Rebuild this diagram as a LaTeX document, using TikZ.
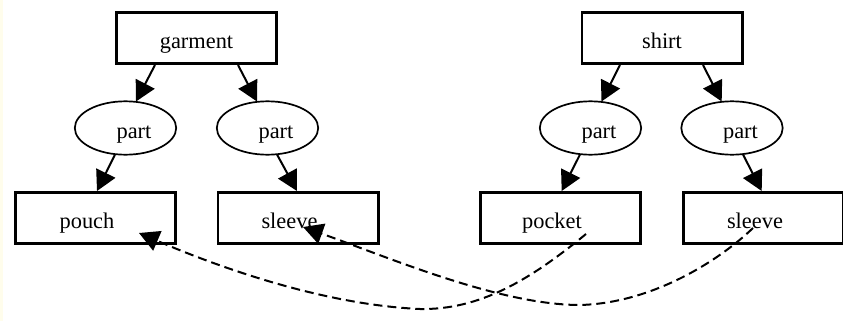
\documentclass[tikz,border=0pt]{standalone}
\usepackage{fontspec}
\setmainfont{Liberation Serif}
\usetikzlibrary{arrows.meta,shapes.geometric,calc}
\definecolor{cream}{RGB}{255,253,236}

\begin{document}
\begin{tikzpicture}[x=0.5pt,y=-0.5pt,
  every node/.style={font=\fontsize{11.2}{13}\selectfont,
    text height=10pt, text depth=0pt, inner sep=0pt},
  box/.style={rectangle, draw, line width=1.4pt,
    minimum width=80.1pt, minimum height=25.6pt},
  rel/.style={ellipse, draw, line width=0.85pt,
    minimum width=50.7pt, minimum height=26.7pt},
  link/.style={line width=1pt, -{Triangle[length=10pt,width=10.5pt]}},
  xref/.style={link, dash pattern=on 4.5pt off 2.5pt},
]
\useasboundingbox (0,0) rectangle (843,321);
\clip (0,0) rectangle (843,321);
\fill[cream] (0,0) rectangle (3.5,321);

% left tree
\node[box] (garment) at (196.5,38) {garment};
\node[rel] (p1) at (125.5,128) {\makebox[0pt]{\hspace*{8.5pt}part}};
\node[rel] (p2) at (267.5,128) {\makebox[0pt]{\hspace*{8.5pt}part}};
\node[box] (pouch) at (95.5,218) {\makebox[0pt]{pouch\hspace*{8.5pt}}};
\node[box] (sleeveA) at (298,218) {\makebox[0pt]{sleeve\hspace*{8.5pt}}};

% right tree
\node[box] (shirt) at (662,38) {shirt};
\node[rel] (p3) at (590.5,128) {\makebox[0pt]{\hspace*{8.5pt}part}};
\node[rel] (p4) at (732,128) {\makebox[0pt]{\hspace*{8.5pt}part}};
\node[box] (pocket) at (560.5,218) {\makebox[0pt]{pocket\hspace*{8.5pt}}};
\node[box] (sleeveB) at (763.5,218) {\makebox[0pt]{sleeve\hspace*{8.5pt}}};

% tree edges
\draw[link] ($(garment.south)+(-41.5,0)$) -- ($(p1.center)+(10.5,-26.5)$);
\draw[link] ($(garment.south)+(41.5,0)$) -- ($(p2.center)+(-10.5,-26.5)$);
\draw[link] ($(p1.center)+(-10.5,26.5)$) -- ($(pouch.north)+(1.5,0)$);
\draw[link] ($(p2.center)+(9.5,26.5)$) -- ($(sleeveA.north)+(-1,0)$);
\draw[link] ($(shirt.south)+(-42,0)$) -- ($(p3.center)+(11,-26.5)$);
\draw[link] ($(shirt.south)+(41,0)$) -- ($(p4.center)+(-10.3,-26.5)$);
\draw[link] ($(p3.center)+(-10.5,26.5)$) -- ($(pocket.north)+(1.2,0)$);
\draw[link] ($(p4.center)+(11,26.5)$) -- ($(sleeveB.north)+(-1.8,0)$);

% cross references between the trees
\draw[xref] ($(pocket.center)+(25.5,16)$)
  .. controls (530,280) and (480,310) .. (420,309)
  .. controls (330,305) and (230,272) .. ($(pouch.center)+(43.5,15)$);
\draw[xref] ($(sleeveB.center)+(-10.5,10)$)
  .. controls (722,258) and (655,303) .. (580,305)
  .. controls (500,305) and (390,258) .. ($(sleeveA.center)+(5,9)$);
\end{tikzpicture}
\end{document}
